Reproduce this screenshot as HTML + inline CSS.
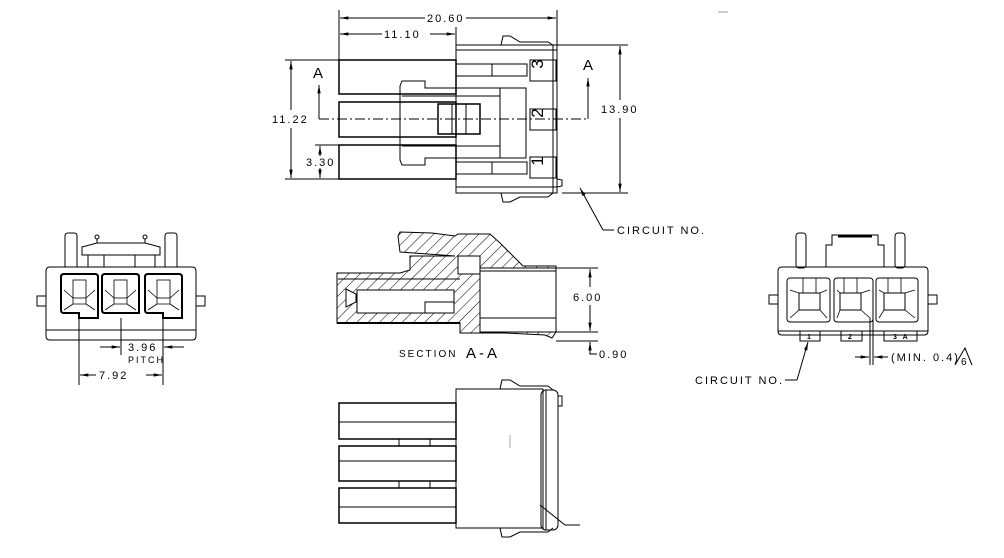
<!DOCTYPE html>
<html><head><meta charset="utf-8"><style>
html,body{margin:0;padding:0;background:#fff;}
svg{display:block;}
text{font-family:"Liberation Sans",sans-serif;font-size:11px;fill:#000;letter-spacing:2px;}
</style></head><body>
<svg width="1004" height="558" viewBox="0 0 1004 558" xmlns="http://www.w3.org/2000/svg">
<defs>
<pattern id="h" width="8" height="8" patternUnits="userSpaceOnUse" patternTransform="rotate(45)">
<line x1="0" y1="0" x2="0" y2="8" stroke="#000" stroke-width="1"/></pattern>
<marker id="a" viewBox="0 0 10 6" refX="10" refY="3" markerWidth="10" markerHeight="5" orient="auto-start-reverse"><path d="M0,1 L10,3 L0,5z" fill="#000"/></marker>
</defs>
<g fill="none" stroke="#000" stroke-width="1">
<!-- TOP VIEW -->
<line x1="339" y1="10" x2="339" y2="60"/><line x1="557" y1="10" x2="557" y2="45"/><line x1="456" y1="27" x2="456" y2="45"/>
<line x1="340" y1="18" x2="425" y2="18" marker-start="url(#a)"/><line x1="466" y1="18" x2="556" y2="18" marker-end="url(#a)"/>
<line x1="340" y1="34" x2="382" y2="34" marker-start="url(#a)"/><line x1="430" y1="34" x2="455" y2="34" marker-end="url(#a)"/>
<rect x="456" y="45" width="101" height="148"/>
<path d="M501,45 L503,36 L510,36 L520,42 L548,42 L553,45"/>
<path d="M501,193 L503,202 L510,202 L520,197 L548,197 L553,193"/>
<line x1="553" y1="45" x2="553" y2="193"/><line x1="456" y1="50" x2="557" y2="50"/><line x1="456" y1="187" x2="557" y2="187"/>
<path d="M557,179 L562,180 L562,186 L557,187"/>
<rect x="339" y="60" width="117" height="34" stroke-width="1.5"/>
<rect x="339" y="102" width="117" height="35" stroke-width="1.5"/>
<rect x="339" y="145" width="117" height="34" stroke-width="1.5"/>
<rect x="456" y="64" width="71" height="12"/><line x1="492" y1="64" x2="492" y2="76"/>
<rect x="456" y="162" width="71" height="12"/><line x1="492" y1="162" x2="492" y2="174"/>
<path d="M400,86 L402,81 L425,81 L425,88 L435,88 L526,88 L526,158 L435,158 L425,158 L425,165 L402,165 L400,160 Z"/>
<line x1="402" y1="96" x2="500" y2="96"/><line x1="402" y1="146" x2="500" y2="146"/>
<line x1="500" y1="88" x2="500" y2="158"/><line x1="456" y1="96" x2="456" y2="146"/>
<rect x="438" y="104" width="42" height="30" stroke-width="1.5"/><line x1="452" y1="104" x2="452" y2="134"/><line x1="466" y1="104" x2="466" y2="134"/>
<rect x="530" y="60" width="26" height="21"/><rect x="530" y="109" width="26" height="21"/><rect x="530" y="157" width="26" height="21"/>
<line x1="319" y1="119" x2="588" y2="119" stroke-dasharray="10,3,2,3"/>
<line x1="319" y1="119" x2="319" y2="85" marker-end="url(#a)"/>
<line x1="588" y1="119" x2="588" y2="78" marker-end="url(#a)"/>
<line x1="285" y1="60" x2="339" y2="60"/><line x1="285" y1="179" x2="339" y2="179"/>
<line x1="291" y1="61" x2="291" y2="110" marker-start="url(#a)"/><line x1="291" y1="128" x2="291" y2="178" marker-end="url(#a)"/>
<line x1="315" y1="145" x2="339" y2="145"/>
<line x1="320" y1="146" x2="320" y2="156" marker-start="url(#a)"/><line x1="320" y1="168" x2="320" y2="178" marker-end="url(#a)"/>
<line x1="557" y1="45" x2="628" y2="45"/><line x1="562" y1="193" x2="628" y2="193"/>
<line x1="620" y1="46" x2="620" y2="100" marker-start="url(#a)"/><line x1="620" y1="118" x2="620" y2="192" marker-end="url(#a)"/>
<path d="M603,230 L580,188" marker-end="url(#a)"/><line x1="603" y1="230" x2="614" y2="230"/>
<line x1="718" y1="12" x2="728" y2="12" stroke="#999"/>
<!-- SECTION A-A -->
<path d="M398,236 L400,232 L432,233 L455,236 L458,234 L490,234 L500,243 L523,266 L556,266 L556,332 L552,338 L545,335 L505,333 L460,333 L460,323 L337,323 L337,273 L400,273 L410,270 L410,256 L455,256 L400,252 Z" fill="url(#h)"/>
<rect x="480" y="268" width="76" height="64" fill="#fff"/>
<line x1="480" y1="271" x2="556" y2="271"/><line x1="480" y1="318" x2="556" y2="318"/>
<path d="M338,279 L460,279 M346,289 L356,294 L356,302 L346,307 Z" fill="#fff"/>
<rect x="357" y="290" width="97" height="23" fill="#fff"/>
<rect x="425" y="302" width="29" height="11" fill="#fff"/>
<rect x="458" y="256" width="22" height="18" fill="#fff"/>
<line x1="337" y1="323" x2="460" y2="323" stroke-width="2"/>
<line x1="556" y1="268" x2="598" y2="268"/><line x1="556" y1="332" x2="598" y2="332"/><line x1="556" y1="341" x2="598" y2="341"/>
<line x1="590" y1="269" x2="590" y2="287" marker-start="url(#a)"/><line x1="590" y1="305" x2="590" y2="331" marker-end="url(#a)"/>
<path d="M590,350 L590,342" marker-end="url(#a)"/><path d="M590,350 L590,354 L597,354"/>
<!-- LEFT END VIEW -->
<path d="M65,267 L65,236 Q65,233 68,233 L74,233 Q77,233 77,236 L77,267"/>
<path d="M165,267 L165,236 Q165,233 168,233 L174,233 Q177,233 177,236 L177,267"/>
<path d="M82,255 L82,247 L97,243 L145,243 L160,247 L160,255 Z"/>
<circle cx="97" cy="237" r="2"/><circle cx="145" cy="237" r="2"/><line x1="97" y1="239" x2="97" y2="243"/><line x1="145" y1="239" x2="145" y2="243"/>
<path d="M88,255 L88,267 M155,255 L155,267 M104,255 L104,267 M135,255 L135,267"/>
<path d="M50,267 L192,267 Q196,267 196,271 L196,336 Q196,340 192,340 L50,340 Q46,340 46,336 L46,271 Q46,267 50,267 Z"/>
<line x1="46" y1="330" x2="196" y2="330"/>
<rect x="37" y="296" width="9" height="10"/><rect x="196" y="296" width="9" height="10"/>
<g stroke-width="2">
<path d="M64,274 L95,274 Q98,274 98,277 L98,318 L79,318 L79,313 L64,313 Q61,313 61,310 L61,277 Q61,274 64,274 Z"/>
<path d="M105,274 L136,274 Q139,274 139,277 L139,313 L105,313 Q102,313 102,310 L102,277 Q102,274 105,274 Z"/>
<path d="M148,274 L179,274 Q182,274 182,277 L182,318 L163,318 L163,313 L148,313 Q145,313 145,310 L145,277 Q145,274 148,274 Z"/>
</g>
<g stroke-width="0.8">
<rect x="73" y="280" width="13" height="18"/><path d="M64,290 L73,298 L73,304 L64,310 M95,290 L86,298 L86,304 L95,310 M73,304 L86,304"/>
<rect x="114" y="280" width="13" height="18"/><path d="M105,290 L114,298 L114,304 L105,310 M136,290 L127,298 L127,304 L136,310 M114,304 L127,304"/>
<rect x="157" y="280" width="13" height="18"/><path d="M148,290 L157,298 L157,304 L148,310 M179,290 L170,298 L170,304 L179,310 M157,304 L170,304"/>
</g>
<line x1="79" y1="318" x2="79" y2="385"/><line x1="121" y1="318" x2="121" y2="355"/><line x1="163" y1="318" x2="163" y2="385"/>
<line x1="100" y1="347" x2="120" y2="347" marker-end="url(#a)"/><line x1="184" y1="347" x2="164" y2="347" marker-end="url(#a)"/>
<line x1="96" y1="375" x2="80" y2="375" marker-end="url(#a)"/><line x1="146" y1="375" x2="162" y2="375" marker-end="url(#a)"/>
<!-- RIGHT END VIEW -->
<rect x="796" y="233" width="10" height="35" rx="3"/><rect x="895" y="233" width="10" height="35" rx="3"/>
<path d="M826,267 L826,245 L832,245 L832,235 L878,235 L878,245 L884,245 L884,267"/>
<line x1="838" y1="236" x2="872" y2="236" stroke-width="3"/>
<path d="M782,267 L924,267 Q928,267 928,271 L928,331 Q928,335 924,335 L782,335 Q778,335 778,331 L778,271 Q778,267 782,267 Z"/>
<line x1="778" y1="331" x2="928" y2="331"/>
<rect x="769" y="295" width="9" height="9"/><rect x="928" y="295" width="9" height="9"/>
<rect x="787" y="278" width="43" height="44" rx="3"/><rect x="834" y="278" width="39" height="44" rx="3"/><rect x="876" y="278" width="42" height="44" rx="3"/>
<g stroke-width="0.8">
<path d="M790,290 L799,293 M827,290 L820,293 M790,318 L799,310 M827,318 L820,310 M803,278 L803,293 M816,278 L816,293"/>
<path d="M837,290 L840,293 M870,290 L861,293 M837,318 L840,310 M870,318 L861,310 M844,278 L844,293 M857,278 L857,293"/>
<path d="M879,290 L884,293 M915,290 L905,293 M879,318 L884,310 M915,318 L905,310 M888,278 L888,293 M901,278 L901,293"/>
</g>
<rect x="799" y="293" width="21" height="17"/><rect x="840" y="293" width="21" height="17"/><rect x="884" y="293" width="21" height="17"/>
<rect x="800" y="331" width="20" height="10"/><rect x="841" y="331" width="21" height="10"/><rect x="884" y="331" width="33" height="10"/>
<line x1="870" y1="318" x2="870" y2="365"/><line x1="873" y1="318" x2="873" y2="365"/>
<line x1="855" y1="357" x2="869" y2="357" marker-end="url(#a)"/><line x1="888" y1="357" x2="874" y2="357" marker-end="url(#a)"/>
<path d="M955,365 L965,348 L972,365"/>
<path d="M797,380 L808,342" marker-end="url(#a)"/><line x1="785" y1="380" x2="797" y2="380"/>
<!-- BOTTOM VIEW -->
<rect x="456" y="389" width="87" height="139"/>
<path d="M500,389 L502,380 L510,380 L520,386 L548,386 L553,390"/>
<path d="M500,528 L502,537 L510,537 L520,532 L548,532 L553,528"/>
<rect x="541" y="390" width="17" height="140" rx="5"/><line x1="546" y1="390" x2="546" y2="530"/>
<rect x="558" y="396" width="4" height="10"/>
<rect x="339" y="403" width="117" height="36" stroke-width="1.5"/><line x1="339" y1="422" x2="456" y2="422"/>
<rect x="339" y="446" width="117" height="35" stroke-width="1.5"/><line x1="339" y1="461" x2="456" y2="461"/>
<rect x="339" y="488" width="117" height="35" stroke-width="1.5"/><line x1="339" y1="507" x2="456" y2="507"/>
<path d="M399,439 L399,446 M430,439 L430,446 M399,481 L399,488 M430,481 L430,488"/>
<path d="M540,505 L565,525 L580,525"/>
<line x1="510" y1="435" x2="510" y2="448" stroke="#aaa"/>
</g>
<g>
<text x="427" y="22">20.60</text>
<text x="384" y="38">11.10</text>
<text x="313" y="78" style="letter-spacing:0;font-size:15px">A</text>
<text x="583" y="70" style="letter-spacing:0;font-size:15px">A</text>
<text x="272" y="123">11.22</text>
<text x="306" y="166">3.30</text>
<text x="601" y="113">13.90</text>
<text x="617" y="234">CIRCUIT NO.</text>
<text x="549" y="70" transform="rotate(-90 543 70)" style="font-size:17px;letter-spacing:0" text-anchor="middle">3</text>
<text x="549" y="119" transform="rotate(-90 543 119)" style="font-size:17px;letter-spacing:0" text-anchor="middle">2</text>
<text x="549" y="167" transform="rotate(-90 543 167)" style="font-size:17px;letter-spacing:0" text-anchor="middle">1</text>
<text x="573" y="301">6.00</text>
<text x="599" y="358">0.90</text>
<text x="399" y="357" style="font-size:10px">SECTION</text>
<text x="466" y="358" style="font-size:15px;letter-spacing:3px">A-A</text>
<text x="128" y="351">3.96</text>
<text x="128" y="363" style="font-size:9px">PITCH</text>
<text x="99" y="379">7.92</text>
<text x="891" y="361">(MIN. 0.4)</text>
<text x="961" y="365" style="font-size:10px;letter-spacing:0">6</text>
<text x="695" y="384">CIRCUIT NO.</text>
<text x="807" y="339" style="font-size:7px;font-weight:bold">1</text>
<text x="848" y="339" style="font-size:7px;font-weight:bold">2</text>
<text x="893" y="339" style="font-size:7px;font-weight:bold">3 A</text>
</g>
</svg>
</body></html>
